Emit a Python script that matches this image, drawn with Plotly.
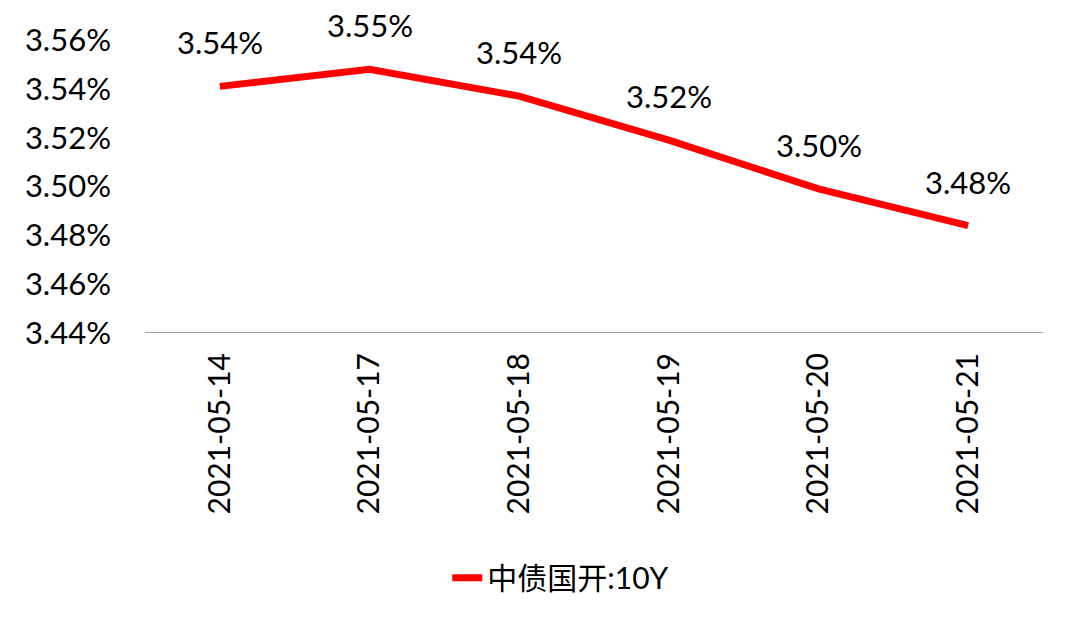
import plotly.graph_objects as go

dates = ["2021-05-14", "2021-05-17", "2021-05-18", "2021-05-19", "2021-05-20", "2021-05-21"]
values = [3.541, 3.548, 3.537, 3.519, 3.499, 3.484]
series_name = "中债国开:10Y"
y_ticks = [3.44, 3.46, 3.48, 3.50, 3.52, 3.54, 3.56]

FONT = "Lato, 'Noto Sans CJK SC', sans-serif"

fig = go.Figure()
fig.add_trace(go.Scatter(
    x=dates, y=values, mode="lines", name=series_name,
    line=dict(color="#FF0000", width=7, shape="linear"),
))

for d, v in zip(dates, values):
    fig.add_annotation(x=d, y=v, text=f"{v:.2f}%", showarrow=False,
                       yshift=44, font=dict(family=FONT, size=31, color="#000000"))

fig.update_layout(
    width=1080, height=631,
    margin=dict(l=145, r=37, t=40, b=298),
    paper_bgcolor="white", plot_bgcolor="white",
    font=dict(family=FONT, size=30, color="#000000"),
    showlegend=True,
    legend=dict(orientation="h", x=0.463, xanchor="center", y=-0.835, yanchor="middle",
                font=dict(family=FONT, size=30, color="#000000")),
    xaxis=dict(type="category", tickangle=-90, showgrid=False, zeroline=False,
               showline=False, ticks="", tickfont=dict(size=30),
               ticklabelstandoff=13,
               range=[-0.5, len(dates) - 0.5]),
    yaxis=dict(range=[3.44, 3.56], tickvals=y_ticks,
               ticktext=[f"{t:.2f}%" for t in y_ticks],
               showgrid=False, zeroline=False, showline=False, ticks="",
               ticklabelstandoff=33,
               tickfont=dict(size=31)),
)
fig.add_shape(type="line", xref="paper", yref="y", x0=0, x1=1, y0=3.44, y1=3.44,
              line=dict(color="#A0A0A0", width=2))

fig.write_html("out.html")
